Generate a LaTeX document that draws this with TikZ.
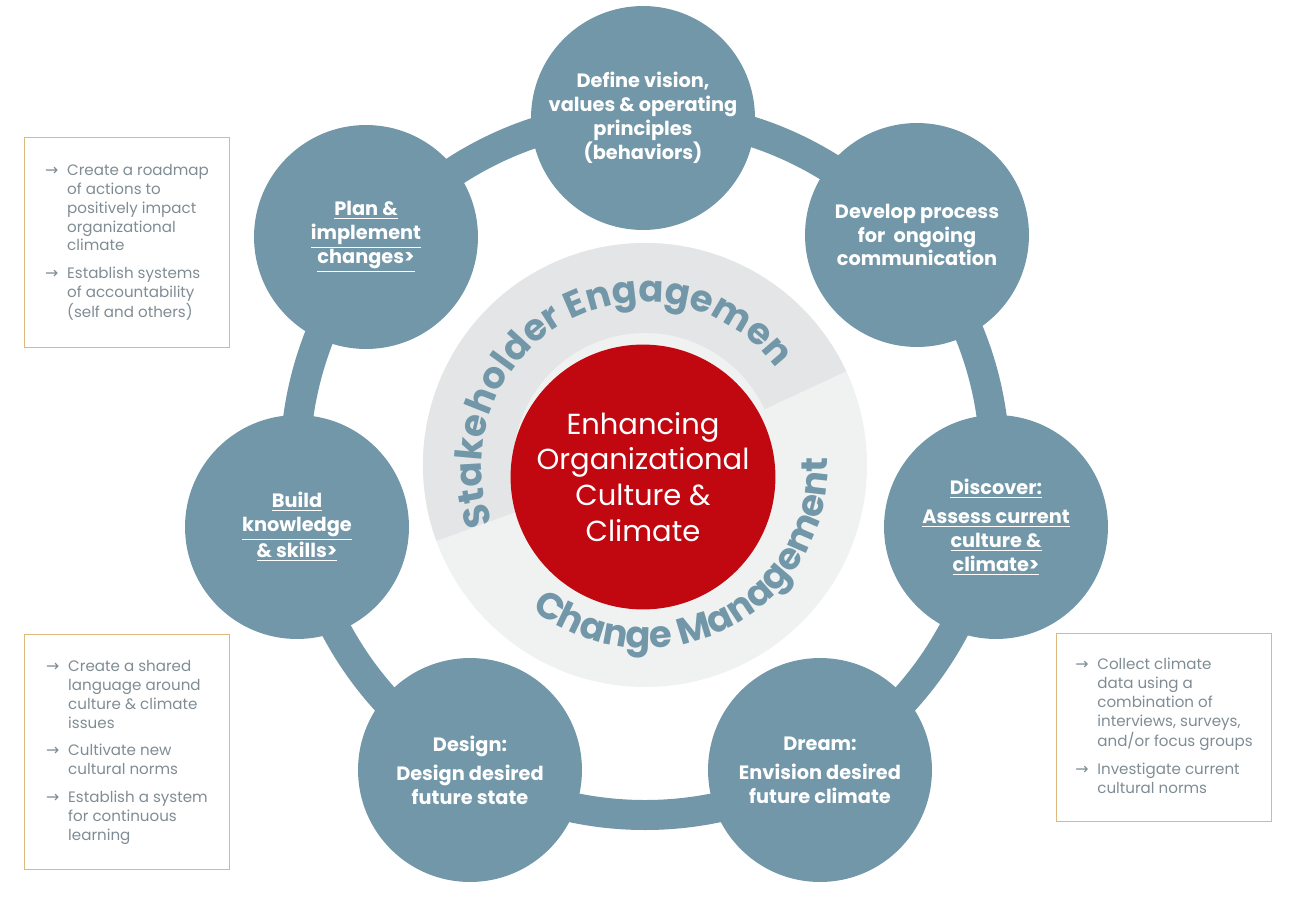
\documentclass[tikz,border=0pt]{standalone}
\usepackage{fontspec}
\setmainfont{Poppins}
\newfontfamily\arrowfont{DejaVu Sans}
\usetikzlibrary{positioning,decorations.text}
\definecolor{steel}{HTML}{7197A9}
\definecolor{crimson}{HTML}{C1070F}
\definecolor{tan}{HTML}{DDB97E}
\definecolor{notegray}{HTML}{7F8C93}
\definecolor{palegray}{HTML}{F0F1F1}
\definecolor{midgray}{HTML}{E4E5E6}
\newcommand{\ar}{{\arrowfont\small→}}

\begin{document}
\begin{tikzpicture}[x=0.02cm, y=0.02cm,
    stage/.style={circle, fill=steel, minimum size=4.48cm, inner sep=0pt, text=white,
        font=\bfseries\fontsize{11}{13.6}\selectfont, align=center},
    note/.style={draw=tan, line width=0.6pt, anchor=north west, inner sep=0pt,
        text=notegray, font=\fontsize{8.6}{10.8}\selectfont}]
    \useasboundingbox (0,0) rectangle (1292,-900);
    \coordinate (c) at (645,-465);

    % connecting ring
    \draw[steel, line width=0.6cm] (c) circle (350);

    % grey disc with swirl
    \fill[palegray] (c) circle (222);
    \fill[midgray] (c) ++(200:222) arc[start angle=200, end angle=25, radius=222]
        -- ++(205:90) arc[start angle=25, end angle=200, radius=132] -- cycle;

    % arc labels
    \path[decorate, decoration={text along path, text align=center,
        text={|\color{steel}\bfseries\fontsize{21}{21}\selectfont|Stakeholder Engagement}}]
        (c) ++(192:163) arc[start angle=192, end angle=40, radius=163];
    \path[decorate, decoration={text along path, text align=center,
        text={|\color{steel}\bfseries\fontsize{21}{21}\selectfont|Change Management}}]
        (c) ++(232:183) arc[start angle=232, end angle=362, radius=183];

    % centre
    \node[circle, fill=crimson, minimum size=5.28cm, text=white, align=center,
        font=\fontsize{16.5}{20.4}\selectfont] (core) at (643,-477)
        {Enhancing\\Organizational\\Culture \&\\Climate};

    % stages
    \node[stage] (vision) at (643,-118) {Define vision,\\values \& operating\\principles\\(behaviors)};
    \node[stage] (process) at (917,-235) {Develop process\\for\ \ ongoing\\communication};
    \node[stage] (discover) at (996,-527) {\underline{Discover:}\\[3pt]\underline{Assess current}\\\underline{culture \&}\\\underline{climate>}};
    \node[stage] (dream) at (820,-770) {Dream:\\[3pt]Envision desired\\future climate};
    \node[stage] (design) at (470,-770) {Design:\\[3pt]Design desired\\future state};
    \node[stage] (build) at (297,-527) {\underline{Build}\\\underline{knowledge}\\\underline{\& skills>}};
    \node[stage] (plan) at (366,-237) {\underline{Plan \&}\\\underline{implement}\\\underline{changes>}};

    % notes
    \node[note, minimum width=4.1cm, minimum height=4.2cm] (planNote) at (24,-137) {%
        \begin{tabular}{@{}l@{\hspace{5pt}}l@{}}
        \ar & Create a roadmap\\ & of actions to\\ & positively impact\\ & organizational\\ & climate\\[5pt]
        \ar & Establish systems\\ & of accountability\\ & (self and others)
        \end{tabular}};
    \node[note, minimum width=4.1cm, minimum height=4.7cm] (buildNote) at (24,-634) {%
        \begin{tabular}{@{}l@{\hspace{5pt}}l@{}}
        \ar & Create a shared\\ & language around\\ & culture \& climate\\ & issues\\[5pt]
        \ar & Cultivate new\\ & cultural norms\\[5pt]
        \ar & Establish a system\\ & for continuous\\ & learning
        \end{tabular}};
    \node[note, minimum width=4.3cm, minimum height=3.76cm] (discoverNote) at (1056,-633) {%
        \begin{tabular}{@{}l@{\hspace{5pt}}l@{}}
        \ar & Collect climate\\ & data using a\\ & combination of\\ & interviews, surveys,\\ & and/or focus groups\\[5pt]
        \ar & Investigate current\\ & cultural norms
        \end{tabular}};
\end{tikzpicture}
\end{document}
